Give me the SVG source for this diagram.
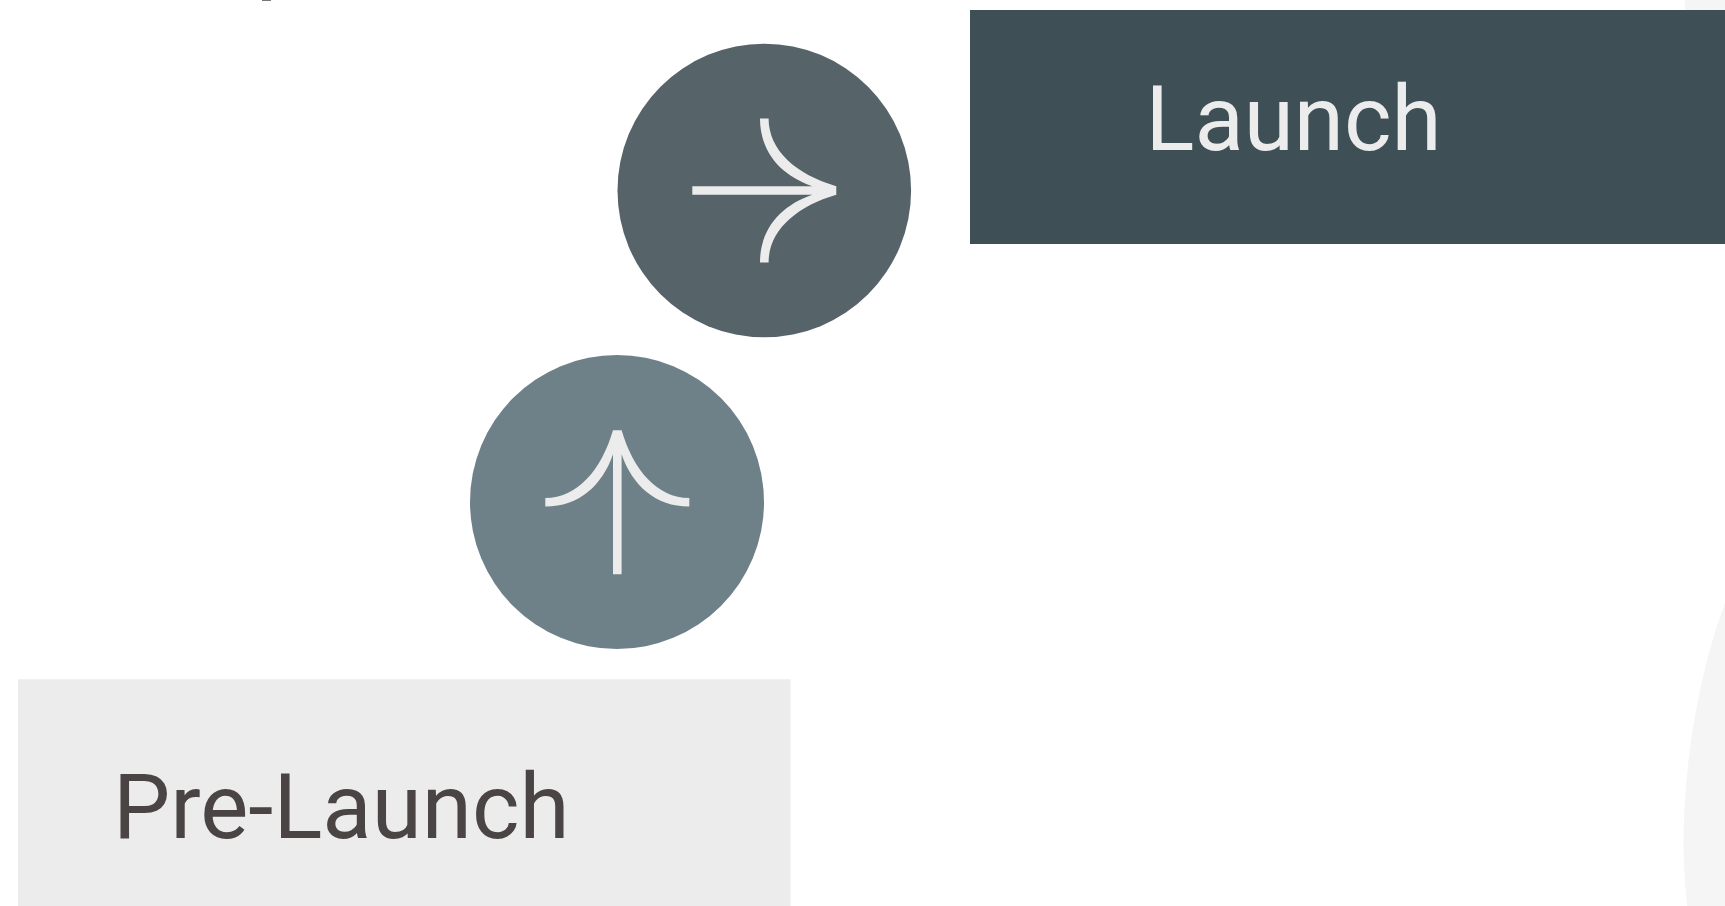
<svg xmlns="http://www.w3.org/2000/svg" width="1725" height="906" viewBox="0 0 1725 906">
<style>
.label{font-family:Roboto,"Liberation Sans",sans-serif;font-weight:400;font-size:90.8px}
.ico{fill:#ececec}
</style>
<defs>
<g id="arrow"><path class="ico" d="M-72 -4.3H48C17 -15 -4.3 -38 -4.3 -72H4.3C4.3 -40 32 -16 72 -4.3V4.3C32 16 4.3 40 4.3 72H-4.3C-4.3 38 17 15 48 4.3H-72Z"/></g>
</defs>
<rect width="1725" height="906" fill="#fff"/>
<g id="backdrop">
<path d="M1685 0H1725V10H1685Z" fill="#f5f5f5"/>
<path d="M1725 603C1700 670 1683.5 760 1683.5 843C1683.5 865 1685 885 1687 906H1725Z" fill="#f5f5f5"/>
<rect x="262" y="0" width="9" height="1" fill="#777"/>
</g>
<g id="launch">
<rect x="970" y="10" width="755" height="234" fill="#3e4f55"/>
<text class="label" x="1145.5" y="150.3" fill="#ececec">Launch</text>
</g>
<g id="launch-arrow">
<circle cx="764.3" cy="190.5" r="146.8" fill="#566369"/>
<use href="#arrow" transform="translate(764.3 190.5)"/>
</g>
<g id="pre-launch-arrow">
<circle cx="617" cy="502" r="147" fill="#6f8188"/>
<use href="#arrow" transform="translate(617.3 502.2) rotate(-90)"/>
</g>
<g id="pre-launch">
<rect x="18" y="679.3" width="772.5" height="226.7" fill="#ececec"/>
<text class="label" x="113" y="838.3" fill="#4a4544">Pre-Launch</text>
</g>
</svg>
